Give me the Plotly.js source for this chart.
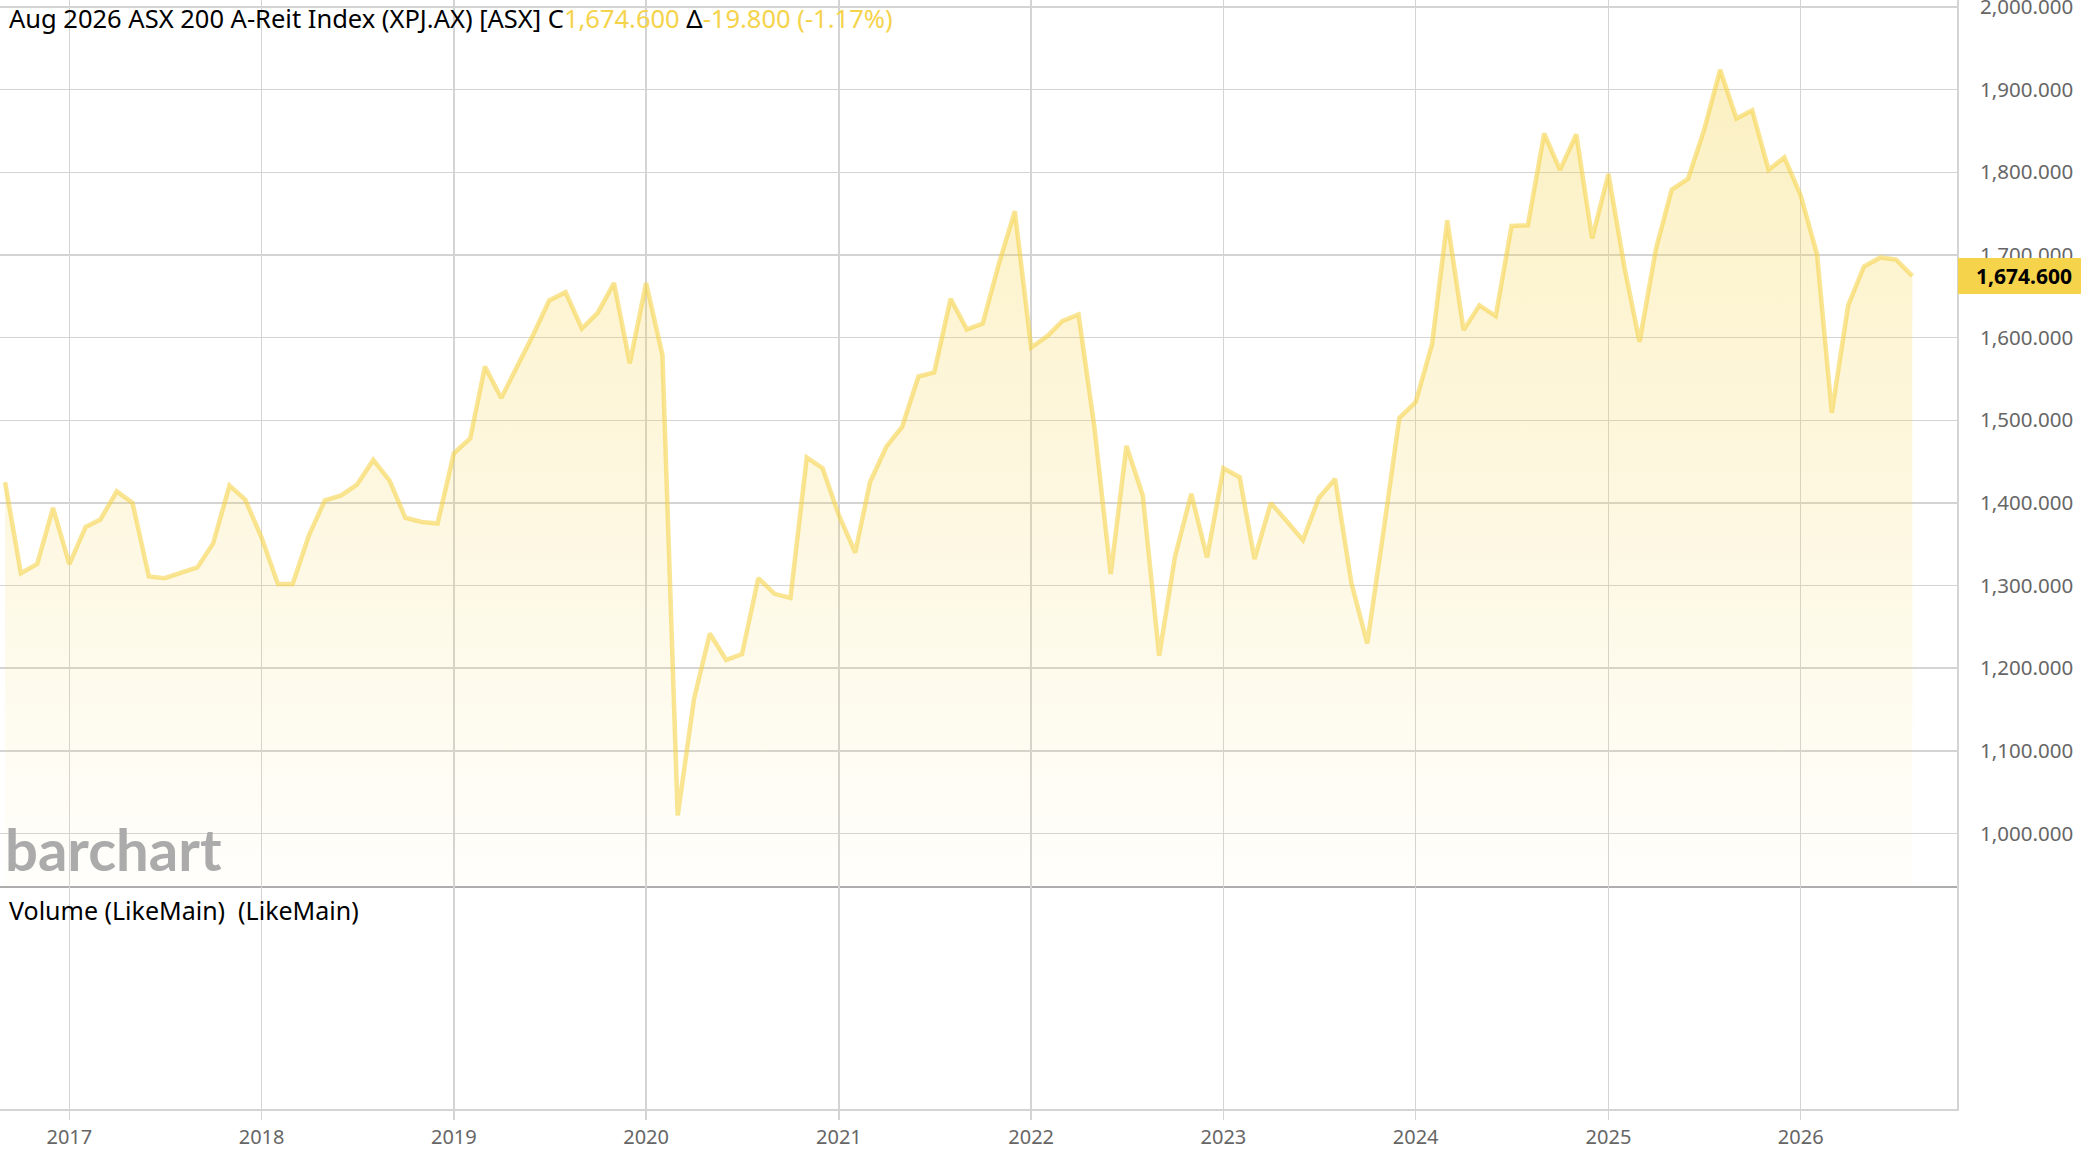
<!DOCTYPE html>
<html>
<head>
<meta charset="utf-8">
<script src="https://cdn.plot.ly/plotly-3.0.1.min.js"></script>
<style>
html,body{margin:0;padding:0;background:#fff;}
#chart{width:2081px;height:1158px;}
</style>
</head>
<body>
<div id="chart"></div>
<script>
// Monthly closes, ASX 200 A-Reit Index (XPJ.AX)
const months = [
 '2016-09','2016-10','2016-11','2016-12',
 '2017-01','2017-02','2017-03','2017-04','2017-05','2017-06','2017-07','2017-08','2017-09','2017-10','2017-11','2017-12',
 '2018-01','2018-02','2018-03','2018-04','2018-05','2018-06','2018-07','2018-08','2018-09','2018-10','2018-11','2018-12',
 '2019-01','2019-02','2019-03','2019-04','2019-05','2019-06','2019-07','2019-08','2019-09','2019-10','2019-11','2019-12',
 '2020-01','2020-02','2020-03','2020-04','2020-05','2020-06','2020-07','2020-08','2020-09','2020-10','2020-11','2020-12',
 '2021-01','2021-02','2021-03','2021-04','2021-05','2021-06','2021-07','2021-08','2021-09','2021-10','2021-11','2021-12',
 '2022-01','2022-02','2022-03','2022-04','2022-05','2022-06','2022-07','2022-08','2022-09','2022-10','2022-11','2022-12',
 '2023-01','2023-02','2023-03','2023-04','2023-05','2023-06','2023-07','2023-08','2023-09','2023-10','2023-11','2023-12',
 '2024-01','2024-02','2024-03','2024-04','2024-05','2024-06','2024-07','2024-08','2024-09','2024-10','2024-11','2024-12',
 '2025-01','2025-02','2025-03','2025-04','2025-05','2025-06','2025-07','2025-08','2025-09','2025-10','2025-11','2025-12',
 '2026-01','2026-02','2026-03','2026-04','2026-05','2026-06','2026-07','2026-08'
];
const closes = [
 1425,1315,1326,1394,
 1326,1371,1380,1414,1400,1311,1309,1316,1322,1351,1421,1404,
 1358,1302,1302,1361,1403,1409,1422,1452,1427,1382,1377,1375,
 1460,1478,1565,1527,1564,1604,1645,1655,1611,1630,1666,1569,
 1666,1579,1022,1163,1242,1210,1217,1309,1290,1285,1455,1442,
 1385,1340,1425,1468,1492,1553,1558,1647,1610,1617,1690,1753,
 1588,1602,1620,1628,1492,1314,1469,1409,1215,1335,1411,1334,
 1442,1431,1332,1400,1378,1355,1406,1429,1303,1230,1366,1503,
 1522,1592,1742,1609,1639,1626,1735,1736,1847,1803,1846,1720,
 1798,1683,1595,1707,1779,1792,1850,1924,1865,1875,1803,1818,
 1772,1701,1509,1639,1686,1697,1694.4,1674.6
];
const lastClose = 1674.6;
const lastLabel = '1,674.600';
const changeLabel = '-19.800 (-1.17%)';
const titleText = 'Aug 2026 ASX 200 A-Reit Index (XPJ.AX) [ASX] C';
const volumeLabel = 'Volume (LikeMain)&nbsp;&nbsp;(LikeMain)';

const GOLD = '#f5d34b';
const GRID = '#d4d4d4';
const FONT = 'Noto Sans, Open Sans, sans-serif';

const trace = {
  x: months, y: closes, type: 'scatter', mode: 'lines',
  xaxis: 'x', yaxis: 'y',
  line: {color: 'rgba(245,210,70,0.58)', width: 4.5},
  fill: 'tozeroy',
  fillgradient: {
    type: 'vertical', start: 937, stop: 1925,
    colorscale: [[0, 'rgba(245,210,70,0.02)'], [1, 'rgba(245,210,70,0.33)']]
  },
  hoverinfo: 'skip'
};
const volTrace = {
  x: [months[0]], y: [0], type: 'scatter', mode: 'none',
  xaxis: 'x2', yaxis: 'y2', hoverinfo: 'skip', showlegend: false
};

const layout = {
  width: 2081, height: 1158,
  margin: {l: 0, r: 124, t: 0, b: 49, pad: 0},
  paper_bgcolor: '#fff', plot_bgcolor: '#fff',
  showlegend: false,
  font: {family: FONT, size: 20, color: '#666'},
  xaxis: {
    type: 'date', range: ['2016-08-22 09:00', '2026-10-24 17:00'],
    anchor: 'y', showticklabels: false, ticks: '',
    dtick: 'M12', tick0: '2017-01-01',
    showgrid: true, gridcolor: GRID, gridwidth: 1.5,
    showline: true, linecolor: '#adadad', linewidth: 2.5,
    zeroline: false, fixedrange: true
  },
  xaxis2: {
    type: 'date', range: ['2016-08-22 09:00', '2026-10-24 17:00'],
    anchor: 'y2', matches: 'x',
    dtick: 'M12', tick0: '2017-01-01', tickformat: '%Y',
    ticks: 'outside', ticklen: 9, tickwidth: 1.5, tickcolor: GRID,
    showgrid: true, gridcolor: GRID, gridwidth: 1.5,
    showline: true, linecolor: GRID, linewidth: 2,
    tickfont: {family: FONT, size: 20, color: '#666'},
    zeroline: false, fixedrange: true
  },
  yaxis: {
    domain: [0.2015, 1], range: [937.05, 2008.47],
    side: 'right', anchor: 'x',
    dtick: 100, tick0: 1000, tickformat: ',.3f',
    ticks: '', ticklabelstandoff: 17, ticklabeloverflow: 'allow',
    showgrid: true, gridcolor: GRID, gridwidth: 1.5,
    showline: true, linecolor: GRID, linewidth: 2,
    tickfont: {family: FONT, size: 20.5, color: '#666'},
    zeroline: false, fixedrange: true
  },
  yaxis2: {
    domain: [0, 0.2015], range: [0, 1],
    side: 'right', anchor: 'x2',
    showticklabels: false, ticks: '', showgrid: false,
    showline: true, linecolor: GRID, linewidth: 2,
    zeroline: false, fixedrange: true
  },
  shapes: [{
    type: 'rect', layer: 'above', xref: 'paper', yref: 'y',
    x0: 1.0005, x1: 1.07, y0: lastClose - 21.8, y1: lastClose + 21.8,
    fillcolor: GOLD, line: {width: 0}
  }],
  annotations: [
    {
      xref: 'paper', yref: 'paper', x: 0, y: 1, xanchor: 'left', yanchor: 'top',
      xshift: 7, yshift: 1, showarrow: false, align: 'left',
      text: titleText + '<span style="color:' + GOLD + '">' + lastLabel + '</span> Δ<span style="color:' + GOLD + '">' + changeLabel + '</span>',
      font: {family: FONT, size: 25.5, color: '#000'}
    },
    {
      xref: 'paper', yref: 'y', x: 1, y: lastClose, xanchor: 'left', yanchor: 'middle',
      xshift: 17, showarrow: false, text: '<b>' + lastLabel + '</b>',
      font: {family: FONT, size: 21, color: '#000'}
    },
    {
      xref: 'paper', yref: 'paper', x: 0, y: 0.2015, xanchor: 'left', yanchor: 'top',
      xshift: 7, yshift: -5, showarrow: false, text: volumeLabel,
      font: {family: FONT, size: 25, color: '#000'}
    },
    {
      xref: 'paper', yref: 'y', x: 0, y: 937.05, xanchor: 'left', yanchor: 'bottom',
      xshift: 3, yshift: 1, showarrow: false, text: '<b>barchart</b>',
      font: {family: 'Lato, sans-serif', size: 58, color: '#ababab'}
    }
  ]
};

Plotly.newPlot('chart', [trace, volTrace], layout, {displayModeBar: false, staticPlot: true});
</script>
</body>
</html>
